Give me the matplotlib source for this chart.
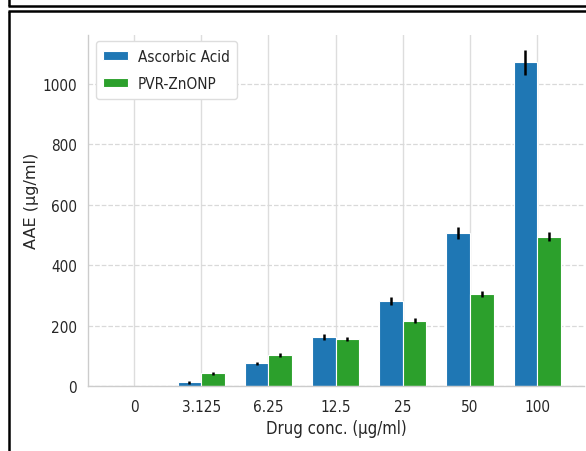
import numpy as np
import matplotlib
matplotlib.use("Agg")
from matplotlib import pyplot as plt
from matplotlib.lines import Line2D

plt.rcParams["font.family"] = "DejaVu Sans"
plt.rcParams["font.stretch"] = "condensed"
plt.rcParams["font.size"] = 11

# concentrations and measured AAE values
concs = ['0', '3.125', '6.25', '12.5', '25', '50', '100']
ascorbic = [0, 12, 75, 162, 281, 506, 1070]
ascorbic_err = [0, 4, 5, 10, 13, 20, 40]
znonp = [0, 42, 102, 156, 216, 304, 494]
znonp_err = [0, 5, 6, 7, 8, 10, 14]

blue = '#1f77b4'
green = '#2ca02c'
text_col = '#262626'

fig = plt.figure(figsize=(5.86, 4.52), dpi=100)
ax = fig.add_axes([0.150, 0.1438, 0.847, 0.776])

x = np.arange(len(concs))
w = 0.35

ax.bar(x - w / 2, ascorbic, w, yerr=ascorbic_err, color=blue,
       edgecolor='white', linewidth=0.8, label='Ascorbic Acid',
       error_kw=dict(ecolor='black', elinewidth=1.8, capsize=0), zorder=2)
ax.bar(x + w / 2, znonp, w, yerr=znonp_err, color=green,
       edgecolor='white', linewidth=0.8, label='PVR-ZnONP',
       error_kw=dict(ecolor='black', elinewidth=1.8, capsize=0), zorder=2)

ax.set_xticks(x)
ax.set_xticklabels(concs)
ax.set_xlim(-0.685, 6.70)
ax.set_ylim(0, 1160)
ax.set_yticks([0, 200, 400, 600, 800, 1000])

ax.set_xlabel('Drug conc. (µg/ml)', fontsize=12, color=text_col, labelpad=4)
ax.set_ylabel('AAE (µg/ml)', fontsize=11.5, fontstretch='normal',
              color=text_col)
ax.yaxis.set_label_coords(-0.099, 0.53)
ax.tick_params(axis='both', length=0, labelcolor=text_col, labelsize=11)
ax.tick_params(axis='y', pad=8)
ax.tick_params(axis='x', pad=9)

# grid: solid vertical, dashed horizontal
ax.set_axisbelow(True)
ax.xaxis.grid(True, color='#dddddd', linestyle='-', linewidth=1.0)
ax.yaxis.grid(True, color='#d9d9d9', linestyle='--', linewidth=0.9)

for side in ['top', 'right']:
    ax.spines[side].set_visible(False)
for side in ['left', 'bottom']:
    ax.spines[side].set_color('#cccccc')
    ax.spines[side].set_linewidth(1.0)

ax.legend(loc='upper left', bbox_to_anchor=(0.0, 1.005), frameon=True,
          edgecolor='#dddddd', fancybox=True, framealpha=1.0, fontsize=11,
          handlelength=1.6, handleheight=0.5, labelspacing=0.8,
          handletextpad=0.65, borderpad=0.5)
for t in ax.get_legend().get_texts():
    t.set_color(text_col)

# outer frames
W, H = 586.0, 452.0
def px_line(x0, y0, x1, y1):
    fig.add_artist(Line2D([x0 / W, x1 / W], [1 - y0 / H, 1 - y1 / H],
                          transform=fig.transFigure, color='black',
                          linewidth=1.8, solid_capstyle='butt'))

px_line(9, 0, 9, 7)
px_line(8, 6.5, W, 6.5)
px_line(9, 12, 9, H)
px_line(8, 12, W, 12)

fig.savefig('out.png', dpi=100)
